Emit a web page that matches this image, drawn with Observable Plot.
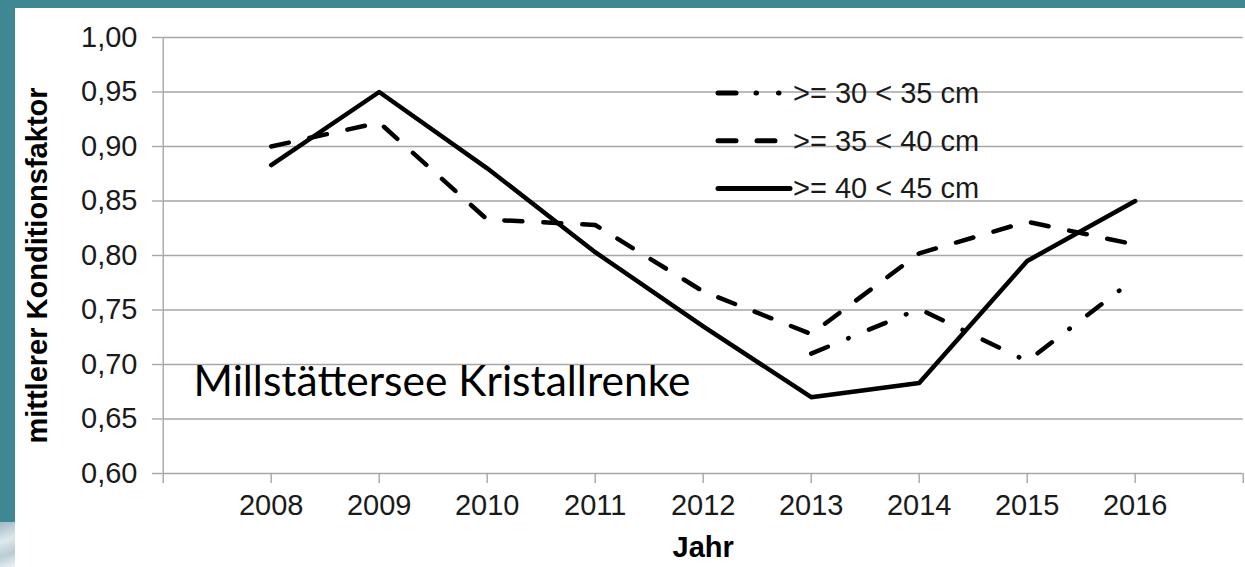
<!DOCTYPE html>
<html>
<head>
<meta charset="utf-8">
<script src="https://cdn.jsdelivr.net/npm/d3@7"></script>
<script src="https://cdn.jsdelivr.net/npm/@observablehq/plot@0.6"></script>
<style>
  html, body { margin: 0; padding: 0; }
  body { width: 1245px; height: 567px; background: #3f8793; overflow: hidden; position: relative; }
  #chart { position: absolute; left: 15px; top: 8px; }
  #deco { position: absolute; left: 0; top: 522px; width: 15px; height: 45px;
          background: linear-gradient(160deg, #9fb8c4 0%, #dfe8ec 40%, #b9ccd5 70%, #eef3f5 100%); }
</style>
</head>
<body>
<div id="deco"></div>
<div id="chart"></div>
<script>
// ---- data ----
const years = [2008, 2009, 2010, 2011, 2012, 2013, 2014, 2015, 2016];
const s30_35 = [null, null, null, null, null, 0.710, 0.751, 0.703, 0.779];
const s35_40 = [0.900, 0.922, 0.833, 0.828, 0.767, 0.728, 0.802, 0.831, 0.810];
const s40_45 = [0.883, 0.950, 0.880, 0.803, 0.735, 0.670, 0.683, 0.795, 0.850];
const seriesNames = [">= 30 < 35 cm", ">= 35 < 40 cm", ">= 40 < 45 cm"];
const yTicks = [0.60, 0.65, 0.70, 0.75, 0.80, 0.85, 0.90, 0.95, 1.00];
const xTicks = [2007, 2008, 2009, 2010, 2011, 2012, 2013, 2014, 2015, 2016, 2017];
const xLabelled = [2008, 2009, 2010, 2011, 2012, 2013, 2014, 2015, 2016];
const yTitle = "mittlerer Konditionsfaktor";
const xTitle = "Jahr";
const note = "Millstättersee Kristallrenke";

// ---- styles ----
const dashes = ["18,22,0.5,22", "18,21", null];
const legendDashes = ["18,20,0.5,22,0.5,30", "18,21", null];
const gridColor = "#a6a6a6";
const textColor = "#1a1a1a";
const fs = 29;

const rows = (vals) => years.map((y, i) => ({year: y, value: vals[i]}));
const seriesVals = [s30_35, s35_40, s40_45];

const lineMarks = seriesVals.map((vals, i) => Plot.line(rows(vals), {
  x: "year", y: "value",
  stroke: "black", strokeWidth: 4.5,
  strokeLinecap: "round", strokeLinejoin: "round",
  strokeDasharray: dashes[i] ?? undefined
}));

const chart = Plot.plot({
  width: 1230,
  height: 559,
  marginLeft: 147.7,
  marginRight: 2.3,
  marginTop: 29,
  marginBottom: 94,
  style: {background: "white", fontFamily: "'Liberation Sans', Arial, sans-serif", color: textColor},
  x: {domain: [2007, 2017], axis: null},
  y: {domain: [0.6, 1.0], axis: null},
  marks: [
    Plot.ruleY(yTicks, {stroke: gridColor, strokeWidth: 1.4}),
    Plot.ruleX([2007], {stroke: gridColor, strokeWidth: 1.4}),
    Plot.axisY(yTicks, {
      tickSize: 10.7, tickPadding: 15, fontSize: fs,
      stroke: gridColor, strokeWidth: 1.4, fill: textColor,
      tickFormat: d => d.toFixed(2).replace(".", ","),
      label: null
    }),
    Plot.axisX(xTicks, {
      tickSize: 10, tickPadding: 11, fontSize: fs,
      stroke: gridColor, strokeWidth: 1.4, fill: textColor,
      tickFormat: d => xLabelled.includes(d) ? String(d) : "",
      label: null
    }),
    Plot.text([yTitle], {
      frameAnchor: "left", textAnchor: "middle", rotate: -90, dx: -125.7, dy: 10,
      fontSize: fs, fontWeight: "bold", fill: "black"
    }),
    Plot.text([xTitle], {
      frameAnchor: "bottom", dy: 83, fontSize: fs, fontWeight: "bold", fill: "black"
    }),
    Plot.text([note], {
      frameAnchor: "bottom-left", textAnchor: "start", dx: 30.3, dy: -78,
      fontSize: 42.5, fontFamily: "Lato", fill: "black"
    }),
    ...lineMarks
  ]
});

document.getElementById("chart").appendChild(chart);

// ---- legend ----
const legend = {x0: 703, x1: 773, textX: 778, y0: 85, step: 47.7};
const svg = d3.select(chart.tagName.toLowerCase() === "svg" ? chart : chart.querySelector("svg"));
const g = svg.append("g")
  .attr("font-family", "'Liberation Sans', Arial, sans-serif")
  .attr("font-size", fs)
  .attr("text-anchor", "start");
seriesNames.forEach((name, i) => {
  const y = legend.y0 + i * legend.step;
  const ln = g.append("line")
    .attr("x1", legend.x0).attr("x2", i === 2 ? legend.x1 + 2 : legend.x1)
    .attr("y1", y).attr("y2", y)
    .attr("stroke", "black").attr("stroke-width", 5)
    .attr("stroke-linecap", "round");
  if (legendDashes[i]) ln.attr("stroke-dasharray", legendDashes[i]);
  g.append("text")
    .attr("x", legend.textX).attr("y", y)
    .attr("dy", "0.34em")
    .attr("text-anchor", "start")
    .attr("fill", textColor)
    .text(name);
});
</script>
</body>
</html>
